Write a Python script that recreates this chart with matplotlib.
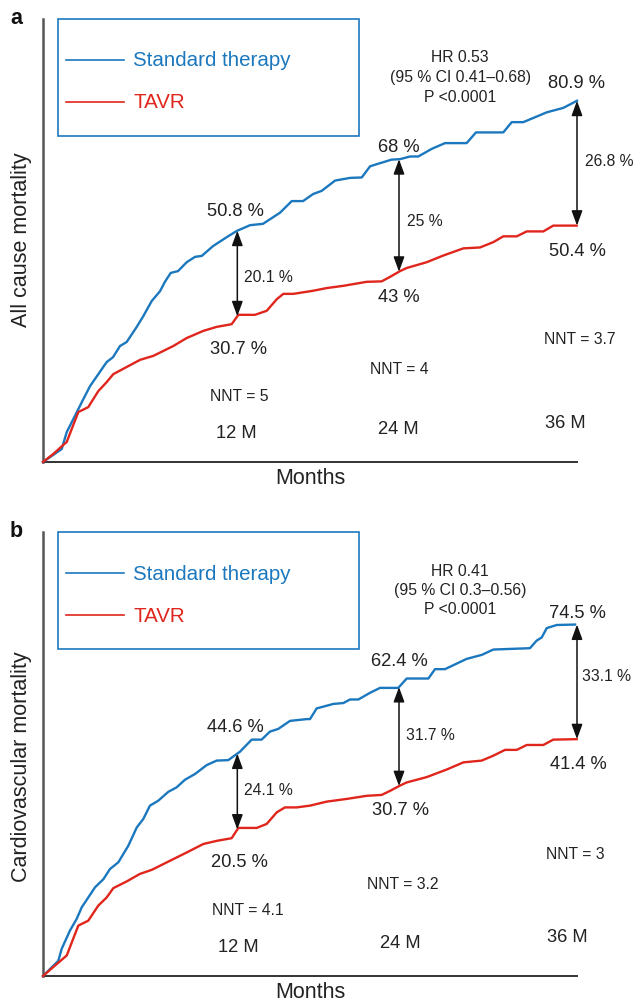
import numpy as np
import matplotlib
matplotlib.use("Agg")
import matplotlib.pyplot as plt
from matplotlib.patches import Rectangle
from matplotlib.lines import Line2D

plt.rcParams['font.family'] = ['Liberation Sans', 'DejaVu Sans']

# ---- data (months, cumulative mortality %) ----
# panel a: all cause mortality
a_std_t = [0, 1.26, 1.60, 2.04, 2.72, 3.17, 4.29, 4.72, 5.19, 5.64, 6.32, 6.76, 7.33, 7.89,
           8.22, 8.61, 9.10, 9.69, 10.25, 10.70, 11.46, 12.38, 13.06, 13.96, 14.83, 15.98,
           16.77, 17.53, 18.22, 18.79, 19.69, 20.70, 21.49, 22.05, 22.72, 23.51, 24.07, 24.74,
           25.30, 26.20, 27.10, 28.56, 29.19, 31.03, 31.60, 32.38, 33.96, 35.08, 36.0]
a_std_y = [0, 2.9, 6.7, 9.6, 14.1, 17.0, 22.4, 23.5, 26.0, 26.9, 30.3, 32.7, 36.1, 38.3,
           40.4, 42.4, 42.8, 44.8, 46.0, 46.2, 48.4, 50.4, 51.8, 53.1, 53.4, 55.9,
           58.5, 58.5, 60.1, 60.8, 63.1, 63.7, 63.8, 66.3, 67.0, 67.8, 67.9, 68.5,
           68.5, 70.2, 71.5, 71.5, 73.9, 73.9, 76.2, 76.2, 78.4, 79.4, 81.0]
a_tavr_t = [0, 0.69, 1.60, 2.38, 3.05, 3.73, 4.29, 4.74, 5.64, 6.54, 7.44, 8.78, 9.69, 10.81,
            11.71, 12.72, 13.17, 14.29, 15.08, 15.76, 16.20, 16.87, 18.22, 19.13, 20.25,
            21.82, 22.83, 23.39, 24.07, 24.52, 25.87, 26.99, 28.34, 29.46, 30.36, 31.03,
            31.94, 32.61, 33.73, 34.40, 35.98]
a_tavr_y = [0, 1.8, 4.5, 11.2, 12.3, 15.9, 17.9, 19.7, 21.3, 22.9, 23.8, 26.0, 27.8, 29.4,
            30.3, 30.9, 33.0, 33.0, 33.9, 36.5, 37.7, 37.7, 38.4, 39.0, 39.5,
            40.4, 40.5, 41.5, 42.8, 43.5, 44.8, 46.3, 47.9, 48.1, 49.3, 50.6,
            50.6, 51.7, 51.7, 53.0, 53.0]

# panel b: cardiovascular mortality
b_std_t = [0, 1.03, 1.26, 1.82, 2.27, 2.61, 3.51, 4.07, 4.52, 5.08, 5.75, 6.32, 6.76, 7.21,
           7.77, 8.45, 9.01, 9.57, 10.25, 11.04, 11.71, 12.49, 13.28, 14.07, 14.74, 15.30,
           15.86, 16.65, 17.78, 18.00, 18.45, 19.57, 20.25, 20.70, 21.26, 22.05, 22.72,
           23.95, 24.52, 25.98, 26.43, 27.10, 28.56, 29.58, 30.36, 32.83, 33.28, 33.62,
           33.96, 34.63, 35.87]
b_std_y = [0, 3.4, 6.1, 10.2, 12.8, 15.4, 19.9, 21.7, 24.0, 25.5, 29.2, 33.3, 35.2, 38.2,
           39.3, 41.3, 42.3, 44.0, 45.3, 47.3, 48.3, 48.4, 50.3, 53.0, 53.0, 54.8,
           55.4, 57.2, 57.6, 57.6, 60.0, 61.0, 61.2, 62.0, 62.0, 63.5, 64.6,
           64.6, 66.7, 66.7, 68.8, 68.8, 71.1, 72.0, 73.2, 73.5, 75.2, 75.9,
           78.0, 78.7, 78.8]
b_tavr_t = [0, 0.69, 1.60, 2.38, 3.05, 3.73, 4.29, 4.74, 5.64, 6.54, 7.33, 8.78, 9.69, 10.81,
            11.71, 12.72, 13.17, 14.41, 15.08, 15.76, 16.31, 17.10, 18.00, 19.13, 20.47,
            21.82, 22.83, 23.39, 24.07, 24.52, 25.87, 27.22, 28.34, 29.58, 30.36, 31.15,
            31.94, 32.61, 33.73, 34.40, 35.98]
b_tavr_y = [0, 2.0, 4.6, 11.3, 12.4, 15.8, 17.6, 19.7, 21.2, 22.9, 23.8, 26.2, 27.7, 29.6,
            30.3, 30.9, 33.2, 33.2, 34.1, 36.7, 37.8, 37.8, 38.2, 39.1, 39.7,
            40.4, 40.6, 41.5, 42.7, 43.4, 44.6, 46.3, 47.9, 48.3, 49.4, 50.7,
            50.7, 51.8, 51.8, 53.0, 53.1]

# arrow positions (months) and text
arrow_t = [13.1, 24.0, 36.0]
a_diff_labels = ['20.1 %', '25 %', '26.8 %']
b_diff_labels = ['24.1 %', '31.7 %', '33.1 %']
a_std_labels = ['50.8 %', '68 %', '80.9 %']
a_tavr_labels = ['30.7 %', '43 %', '50.4 %']
b_std_labels = ['44.6 %', '62.4 %', '74.5 %']
b_tavr_labels = ['20.5 %', '30.7 %', '41.4 %']
a_nnt = ['NNT = 5', 'NNT = 4', 'NNT = 3.7']
b_nnt = ['NNT = 4.1', 'NNT = 3.2', 'NNT = 3']
month_labels = ['12 M', '24 M', '36 M']

BLUE = '#1b78be'
RED = '#e0261c'
TXT = '#222222'
W, H = 641, 1004

fig = plt.figure(figsize=(W / 100, H / 100), dpi=100)


def fx(px):
    return px / W


def fy(py):
    return 1 - py / H


def ftext(px, py, s, size, **kw):
    kw.setdefault('color', TXT)
    fig.text(fx(px), fy(py), s, fontsize=size, ha=kw.pop('ha', 'center'),
             va=kw.pop('va', 'center'), **kw)


panels = [
    dict(top=20, bottom=463, letter='a', ylabel='All cause mortality', yl_off=-2,
         std=(a_std_t, a_std_y), tavr=(a_tavr_t, a_tavr_y),
         diff=a_diff_labels, sl=a_std_labels, tl=a_tavr_labels, nnt=a_nnt,
         hr=['HR 0.53', '(95 % CI 0.41\u20130.68)', 'P <0.0001']),
    dict(top=533, bottom=977, letter='b', ylabel='Cardiovascular mortality', yl_off=12,
         std=(b_std_t, b_std_y), tavr=(b_tavr_t, b_tavr_y),
         diff=b_diff_labels, sl=b_std_labels, tl=b_tavr_labels, nnt=b_nnt,
         hr=['HR 0.41', '(95 % CI 0.3\u20130.56)', 'P <0.0001']),
]

# label offsets (px) relative to each panel's top, per arrow
std_lab_pos = [[(235, 192), (399, 127), (577, 64)], [(235, 194), (399, 129), (577, 80)]]
tavr_lab_pos = [[(239, 329), (399, 278), (577, 231)], [(239, 330), (401, 278), (578, 232)]]
diff_lab_pos = [[(268, 258), (425, 202), (609, 142)], [(268, 258), (430, 202), (607, 144)]]
nnt_pos = [[(239, 377), (399, 350), (580, 320)], [(248, 378), (403, 352), (575, 322)]]
month_pos = [[(236, 413), (398, 410), (565, 403)], [(238, 414), (400, 411), (567, 405)]]

for k, p in enumerate(panels):
    top, bot = p['top'], p['bottom']
    ax = fig.add_axes([fx(43), fy(bot), fx(577) - fx(43), fy(top) - fy(bot)])
    ax.set_xlim(0, 36)
    ax.set_ylim(0, (bot - top) / 4.46)
    for s in ['top', 'right']:
        ax.spines[s].set_visible(False)
    ax.spines['left'].set_color('#555555')
    ax.spines['left'].set_linewidth(1.8)
    ax.spines['bottom'].set_color('#333333')
    ax.spines['bottom'].set_linewidth(1.4)
    ax.set_xticks([])
    ax.set_yticks([])
    ax.patch.set_alpha(0)

    ax.plot(*p['std'], color=BLUE, lw=1.7, clip_on=False, zorder=3)
    ax.plot(*p['tavr'], color=RED, lw=1.7, clip_on=False, zorder=3)

    for i, t in enumerate(arrow_t):
        y1 = np.interp(t, *p['std'])
        y2 = np.interp(t, *p['tavr'])
        ax.annotate('', xy=(t, y1), xytext=(t, y2),
                    arrowprops=dict(arrowstyle='<|-|>,head_length=0.9,head_width=0.33',
                                    color='#111111', lw=1.1,
                                    mutation_scale=10, shrinkA=0, shrinkB=0),
                    zorder=4, annotation_clip=False)
        ftext(*np.add(std_lab_pos[k][i], (0, top)), p['sl'][i], 13.2)
        ftext(*np.add(tavr_lab_pos[k][i], (0, top)), p['tl'][i], 13.2)
        ftext(*np.add(diff_lab_pos[k][i], (0, top)), p['diff'][i], 11.3)
        ftext(*np.add(nnt_pos[k][i], (0, top)), p['nnt'][i], 11.3)
        ftext(*np.add(month_pos[k][i], (0, top)), month_labels[i], 13.2)

    # HR block
    for j, s in enumerate(p['hr']):
        ftext(460, top + 38 + j * 19.5, s, 11.3)

    # legend box
    fig.patches.append(Rectangle((fx(58), fy(top + 117)), fx(359) - fx(58),
                                 fy(top) - fy(top + 117), transform=fig.transFigure,
                                 fill=False, edgecolor=BLUE, lw=1.2))
    for yy, col, lab in [(top + 41, BLUE, 'Standard therapy'), (top + 83, RED, 'TAVR')]:
        fig.lines.append(Line2D([fx(66), fx(124)], [fy(yy), fy(yy)],
                                transform=fig.transFigure, color=col, lw=1.2))
        ftext(133, yy, lab, 14.8, ha='left', color=col)

    ftext(16, top - 1, p['letter'], 15.5, fontweight='bold', color='#111111')
    ftext(310, bot + 16, 'Months', 15.5)
    ftext(22, (top + bot) / 2 + p['yl_off'], p['ylabel'], 15.5, rotation=90)

fig.savefig('out.png', dpi=100)
